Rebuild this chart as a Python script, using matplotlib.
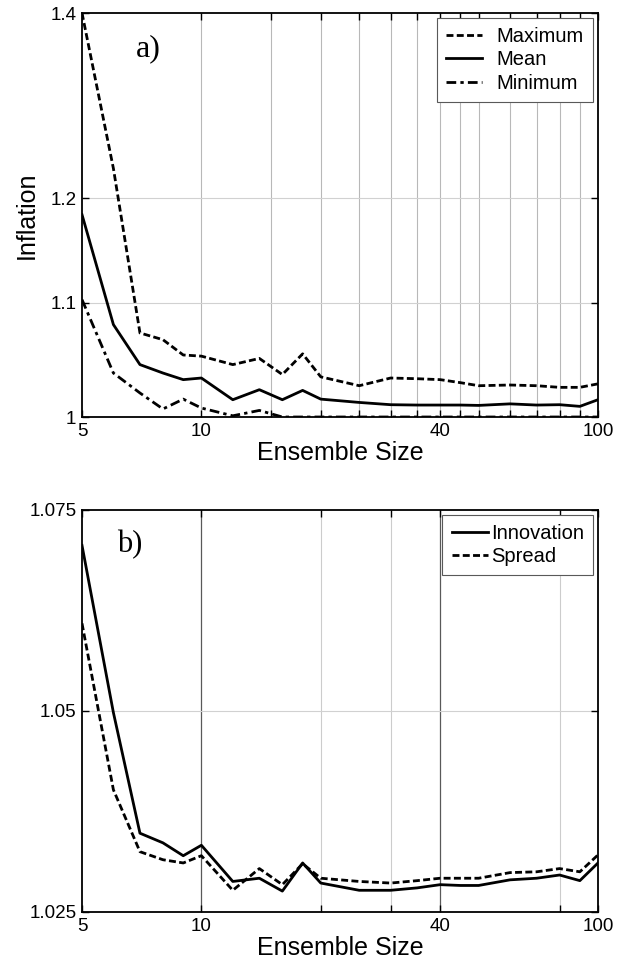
import numpy as np
import matplotlib.pyplot as plt
from matplotlib.ticker import NullLocator, FixedLocator

plt.rcParams['font.family'] = ['Liberation Sans', 'DejaVu Sans']

# ensemble sizes
sizes = [5, 6, 7, 8, 9, 10, 12, 14, 16, 18, 20, 25, 30, 35, 40, 45, 50, 60, 70, 80, 90, 100]

# panel a
infl_max = [1.40, 1.23, 1.0725, 1.0665, 1.053, 1.052, 1.0446, 1.050, 1.036, 1.054, 1.034,
            1.0264, 1.033, 1.0324, 1.0316, 1.029, 1.0264, 1.027, 1.0264, 1.025, 1.025, 1.028]
infl_mean = [1.1836, 1.080, 1.0446, 1.0373, 1.0316, 1.033, 1.0145, 1.023, 1.0145, 1.0224, 1.015,
             1.0122, 1.0103, 1.010, 1.010, 1.010, 1.0097, 1.011, 1.010, 1.0103, 1.0089, 1.0145]
infl_min = [1.1027, 1.0373, 1.0202, 1.0067, 1.015, 1.0075, 1.001, 1.0055, 1.0, 1.0, 1.0,
            1.0, 1.0, 1.0, 1.0, 1.0, 1.0, 1.0, 1.0, 1.0, 1.0, 1.0]

# panel b
innovation = [1.0706, 1.0498, 1.0348, 1.0336, 1.0320, 1.0333, 1.0288, 1.0292, 1.0276, 1.0311, 1.0286,
              1.0277, 1.0277, 1.0280, 1.0284, 1.0283, 1.0283, 1.0290, 1.0292, 1.0296, 1.0289, 1.0311]
spread = [1.0609, 1.0402, 1.0325, 1.0315, 1.0311, 1.0320, 1.0277, 1.0304, 1.0284, 1.0310, 1.0292,
          1.0288, 1.0286, 1.0289, 1.0292, 1.0292, 1.0292, 1.0299, 1.0300, 1.0304, 1.0300, 1.0321]

xlabels_at = [5, 10, 40, 100]
grid_a = [10, 15, 20, 25, 30, 35, 40, 45, 50, 60, 70, 80, 90]
grid_b_dark = [10, 40]
grid_b_light = [20, 30, 80]
yt_a = [1, 1.1, 1.2, 1.4]
yt_b = [1.025, 1.05, 1.075]

fig = plt.figure(figsize=(6.28, 9.65), dpi=100)
ax1 = fig.add_axes([82/628, 1-417/965, 516/628, 404/965])
ax2 = fig.add_axes([82/628, 1-912/965, 516/628, 402/965])

dash = (0, (2.5, 1.2))
dashdot = (0, (3.5, 1.5, 1.2, 1.5))


def style_axes(ax, xticks):
    ax.set_xscale('log')
    ax.set_xlim(5, 100)
    ax.xaxis.set_major_locator(FixedLocator(xticks))
    ax.xaxis.set_minor_locator(NullLocator())
    ax.set_xticklabels([str(t) if t in xlabels_at else '' for t in xticks])
    ax.tick_params(direction='in', top=True, right=True, length=5, width=1,
                   labelsize=13.5, pad=4)
    for s in ax.spines.values():
        s.set_linewidth(1.3)
    ax.set_xlabel('Ensemble Size', fontsize=18, labelpad=1)


def add_legend(ax, textpad):
    leg = ax.legend(loc='upper right', fontsize=14.5, handlelength=1.8,
                    handletextpad=textpad, fancybox=False, edgecolor='0.35',
                    framealpha=1, borderpad=0.45, labelspacing=0.22,
                    borderaxespad=0, bbox_to_anchor=(0.99, 0.988))
    leg.get_frame().set_linewidth(0.8)


# ---- a)
ax1.plot(sizes, infl_max, color='k', lw=2, ls=dash, label='Maximum')
ax1.plot(sizes, infl_mean, color='k', lw=2, label='Mean')
ax1.plot(sizes, infl_min, color='k', lw=2, ls=dashdot, label='Minimum')
ax1.set_yscale('log')
ax1.set_ylim(1, 1.4)
ax1.yaxis.set_major_locator(FixedLocator(yt_a))
ax1.yaxis.set_minor_locator(NullLocator())
ax1.set_yticklabels(['1', '1.1', '1.2', '1.4'])
style_axes(ax1, [5] + grid_a + [100])
for g in grid_a:
    ax1.axvline(g, color='0.72', lw=0.8, zorder=0)
for g in [1.1, 1.2]:
    ax1.axhline(g, color='0.82', lw=0.8, zorder=0)
ax1.set_ylabel('Inflation', fontsize=18, labelpad=8)
ax1.text(0.105, 0.912, 'a)', transform=ax1.transAxes, fontsize=23,
         family='Liberation Serif', va='center')
add_legend(ax1, 0.7)

# ---- b)
ax2.plot(sizes, innovation, color='k', lw=2, label='Innovation')
ax2.plot(sizes, spread, color='k', lw=2, ls=dash, label='Spread')
ax2.set_ylim(1.025, 1.075)
ax2.yaxis.set_major_locator(FixedLocator(yt_b))
ax2.yaxis.set_minor_locator(NullLocator())
ax2.set_yticklabels(['1.025', '1.05', '1.075'])
style_axes(ax2, [5, 10, 20, 30, 40, 80, 100])
for g in grid_b_dark:
    ax2.axvline(g, color='0.35', lw=0.9, zorder=0)
for g in grid_b_light:
    ax2.axvline(g, color='0.8', lw=0.8, zorder=0)
ax2.axhline(1.05, color='0.82', lw=0.8, zorder=0)
ax2.text(0.068, 0.915, 'b)', transform=ax2.transAxes, fontsize=22,
         family='Liberation Serif', va='center')
add_legend(ax2, 0.15)

fig.savefig('out.png', dpi=100)
